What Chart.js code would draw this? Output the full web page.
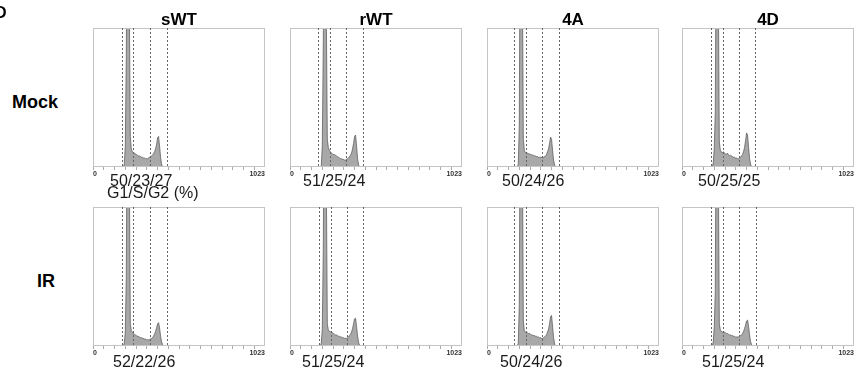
<!DOCTYPE html>
<html>
<head>
<meta charset="utf-8">
<script src="https://cdn.jsdelivr.net/npm/chart.js@4.4.1/dist/chart.umd.min.js"></script>
<style>
  body { margin: 0; background: #fff; width: 855px; height: 374px; position: relative; overflow: hidden;
         font-family: "Liberation Sans", Arial, sans-serif; }
  canvas { position: absolute; }
  .lbl { position: absolute; line-height: 1; white-space: nowrap; color: #1a1a1a; }
  .bold { font-weight: bold; color: #000; }
</style>
</head>
<body>
<script>
// DNA content channels (0..1023 scale)
const channels = [174, 180, 186, 192, 198, 204, 210, 216, 222, 228,
                  234, 240, 246, 252, 258, 264, 270, 276, 282, 288,
                  294, 300, 306, 312, 318, 324, 330, 336, 342, 348,
                  354, 360, 366, 372, 378, 384, 390, 396, 402, 408,
                  414, 420, 426];

// relative cell counts (% of panel height, G1 peak is cut off at the top)
const mockSWT = [0, 0, 2, 15, 80, 200, 200, 120, 22, 13,
                 11, 10.5, 10, 9.5, 9, 8.5, 8, 8, 7.5, 7,
                 7, 6.5, 6.5, 6, 6, 6, 6.5, 7, 7.5, 8,
                 8.5, 9.5, 11, 13, 16, 21, 22, 15, 7, 2,
                 0, 0, 0];
const mockRWT = [0, 0, 1, 15, 90, 200, 200, 110, 20, 14,
                 12, 11, 10, 9.5, 9, 9, 8.5, 8, 7.5, 7,
                 6.5, 6, 6, 5.5, 5.5, 5, 5, 5.5, 6, 6.5,
                 7.5, 8.5, 10, 13, 17, 22, 23, 15, 6, 1.5,
                 0, 0, 0];
const mock4A = [0, 0, 2, 30, 200, 200, 150, 20, 12, 10.5,
                10, 10, 9.5, 9.5, 9, 9, 8.5, 8.5, 8, 8,
                7.5, 7.5, 7, 7, 7, 7, 7, 7, 7.5, 8,
                9, 11, 13, 17, 21.5, 20, 12, 5, 1.5, 0,
                0, 0, 0];
const mock4D = [0, 0, 3, 14, 40, 200, 200, 130, 18, 12,
                11, 10, 11, 10, 9.5, 9, 10, 9, 8, 8.5,
                8, 7.5, 7, 7, 6.5, 6.5, 6, 6, 6.5, 7,
                8, 9, 11, 14, 19, 24.5, 23, 14, 6, 2,
                0, 0, 0];
const irSWT = [0, 0, 2, 10, 50, 200, 200, 130, 16, 11,
               10, 9, 8.5, 8, 7.5, 7, 7, 6.5, 6, 6,
               5.5, 5.5, 5, 5, 4.5, 4.5, 4.5, 4.5, 5, 5.5,
               6, 7, 8.5, 10.5, 13, 16, 16.8, 13, 7, 3,
               1, 0, 0];
const irRWT = [0, 0, 2, 12, 70, 200, 200, 120, 16, 11.5,
               10.5, 10.3, 10, 9.5, 9, 8.5, 8, 8, 7.5, 7,
               7, 6.5, 6.5, 6, 6, 5.5, 5.5, 5.5, 6, 6.5,
               7.5, 8.5, 10, 12.5, 16, 19.5, 20, 14, 7, 2.5,
               0.5, 0, 0];
const ir4A = [0, 0, 2, 30, 200, 200, 150, 18, 11, 10,
              9.5, 9.5, 9, 9, 8.5, 8, 8, 7.5, 7.5, 7,
              7, 6.5, 6.5, 6, 6, 5.5, 5.5, 6, 6.5, 7,
              8, 10, 12, 16, 21, 22, 14, 6, 1.5, 0,
              0, 0, 0];
const ir4D = [0, 0, 3, 14, 40, 200, 200, 130, 16, 11.5,
              10.5, 10, 10.5, 10, 9.5, 9, 9, 8.5, 8, 8,
              7.5, 7.5, 7, 7, 6.5, 6.5, 6.5, 6.5, 7, 7.5,
              8, 9, 10.5, 12.5, 15, 18, 18.7, 14, 8, 3,
              1, 0, 0];

// gate boundaries (channel values)
const mockGates = [[172, 238, 339, 440], [165, 238, 333, 432], [162, 232, 329, 428], [171, 242, 337, 436]];
const irGates = [[171, 240, 337, 438], [172, 242, 337, 436], [162, 232, 329, 430], [174, 244, 339, 438]];

const columnTitles = ["sWT", "rWT", "4A", "4D"];
const rowTitles = ["Mock", "IR"];
const mockPercents = ["50/23/27", "51/25/24", "50/24/26", "50/25/25"];
const irPercents = ["52/22/26", "51/25/24", "50/24/26", "51/25/24"];
const tickPositions = [0, 64, 128, 192, 256, 320, 384, 448, 512, 576, 640, 704, 768, 832, 896, 960, 1023];
const tickLabels = {0: "0", 1023: "1023"};

const rows = [
  {counts: [mockSWT, mockRWT, mock4A, mock4D], gates: mockGates, pct: mockPercents},
  {counts: [irSWT, irRWT, ir4A, ir4D], gates: irGates, pct: irPercents}
];

// layout
const colLeft = [93, 290, 487, 682];
const rowTop = [28, 207];
const plotW = 172, plotH = 139;
const pctLeft = [[110, 303, 502, 698], [113, 302, 500, 702]];
const pctTop = [172.5, 353.5];

function addText(txt, x, y, size, cls, center) {
  const d = document.createElement("div");
  d.className = "lbl " + (cls || "");
  d.textContent = txt;
  d.style.left = x + "px";
  d.style.top = y + "px";
  d.style.fontSize = size + "px";
  if (center) d.style.transform = "translateX(-50%)";
  document.body.appendChild(d);
}

const framePlugin = {
  id: "gates",
  afterDatasetsDraw(chart, args, opts) {
    const {ctx, chartArea: a, scales: {x}} = chart;
    ctx.save();
    ctx.strokeStyle = "#c4c4c4";
    ctx.lineWidth = 1;
    ctx.strokeRect(a.left + 0.5, a.top + 0.5, a.width - 1, a.height - 1);
    ctx.strokeStyle = "#666";
    ctx.setLineDash([2, 2]);
    opts.lines.forEach(g => {
      const px = Math.round(x.getPixelForValue(g)) + 0.5;
      ctx.beginPath();
      ctx.moveTo(px, a.top);
      ctx.lineTo(px, a.bottom);
      ctx.stroke();
    });
    ctx.restore();
  }
};

rows.forEach((row, r) => {
  row.counts.forEach((counts, c) => {
    const cv = document.createElement("canvas");
    cv.width = plotW;
    cv.height = plotH + 12;
    cv.style.left = colLeft[c] + "px";
    cv.style.top = rowTop[r] + "px";
    document.body.appendChild(cv);

    new Chart(cv, {
      type: "line",
      data: {
        datasets: [{
          data: channels.map((ch, i) => ({x: ch, y: counts[i]})),
          fill: "origin",
          backgroundColor: "#a8a8a8",
          borderColor: "#505050",
          borderWidth: 0.7,
          pointRadius: 0,
          tension: 0
        }]
      },
      options: {
        responsive: false,
        animation: false,
        devicePixelRatio: 1,
        layout: {padding: 0},
        plugins: {legend: {display: false}, tooltip: {enabled: false}, gates: {lines: row.gates[c]}},
        scales: {
          x: {
            type: "linear", min: 0, max: 1023,
            afterBuildTicks: s => { s.ticks = tickPositions.map(v => ({value: v})); },
            afterFit: s => { s.height = 12; },
            grid: {drawOnChartArea: false, tickLength: 3, color: "#aaaaaa"},
            border: {display: false},
            ticks: {
              autoSkip: false, maxRotation: 0, padding: 0, align: "inner", color: "#333",
              font: {size: 7, weight: "bold", family: "Liberation Sans"},
              callback: v => tickLabels[v] || ""
            }
          },
          y: {display: false, min: 0, max: 100}
        }
      },
      plugins: [framePlugin]
    });

    addText(row.pct[c], pctLeft[r][c], pctTop[r], 16);
  });
});

// titles and labels
columnTitles.forEach((t, c) => addText(t, colLeft[c] + plotW / 2, 10.5, 17, "bold", true));
addText(rowTitles[0], 12, 93, 18, "bold");
addText(rowTitles[1], 37, 272, 18, "bold");
addText("G1/S/G2 (%)", 107, 185, 16);
addText("D", -5, 5, 16, "bold");
</script>
</body>
</html>
